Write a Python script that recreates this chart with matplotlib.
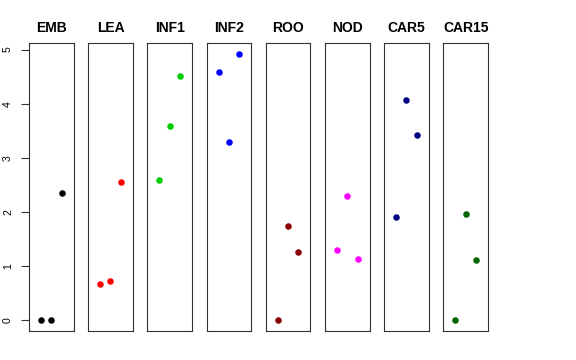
import matplotlib
matplotlib.use("Agg")
import matplotlib.pyplot as plt

plt.rcParams['font.family'] = ['Liberation Sans', 'DejaVu Sans']

# one panel per tissue, three replicates each
tissues = ["EMB", "LEA", "INF1", "INF2", "ROO", "NOD", "CAR5", "CAR15"]
colors = ["black", "red", "#00CD00", "blue", "#8B0000", "magenta", "#000080", "#006400"]
replicates = [1, 2, 3]
values = [
    [0.0, 0.0, 2.36],
    [0.67, 0.72, 2.55],
    [2.60, 3.59, 4.52],
    [4.58, 3.29, 4.92],
    [0.0, 1.74, 1.26],
    [1.30, 2.29, 1.13],
    [1.91, 4.07, 3.43],
    [0.0, 1.97, 1.12],
]
yticks = [0, 1, 2, 3, 4, 5]

W, H = 576, 360
fig = plt.figure(figsize=(W / 100, H / 100), dpi=100)

ymax = max(max(v) for v in values)
pad = 0.04 * ymax

left0, step, pw = 29.0, 59.2, 44.5
top, bottom = 43.3, 331.0

for i, (name, col, vals) in enumerate(zip(tissues, colors, values)):
    x0 = left0 + i * step
    ax = fig.add_axes([x0 / W, 1 - bottom / H, pw / W, (bottom - top) / H])
    ax.scatter(replicates, vals, s=22, color=col, linewidths=0, zorder=3)
    ax.set_xlim(-0.15, 4.15)
    ax.set_ylim(-pad, ymax + pad)
    ax.set_xticks([])
    for sp in ax.spines.values():
        sp.set_linewidth(0.8)
        sp.set_color("#333333")
    ax.set_title(name, fontsize=10, fontweight="bold", pad=8)
    if i == 0:
        ax.set_yticks(yticks)
        ax.set_yticklabels([str(t) for t in yticks], rotation=90, va="center", fontsize=7.5)
        ax.tick_params(axis="y", length=6, width=0.8, pad=5.5, color="#333333")
    else:
        ax.set_yticks([])

fig.savefig("out.png", dpi=100)
